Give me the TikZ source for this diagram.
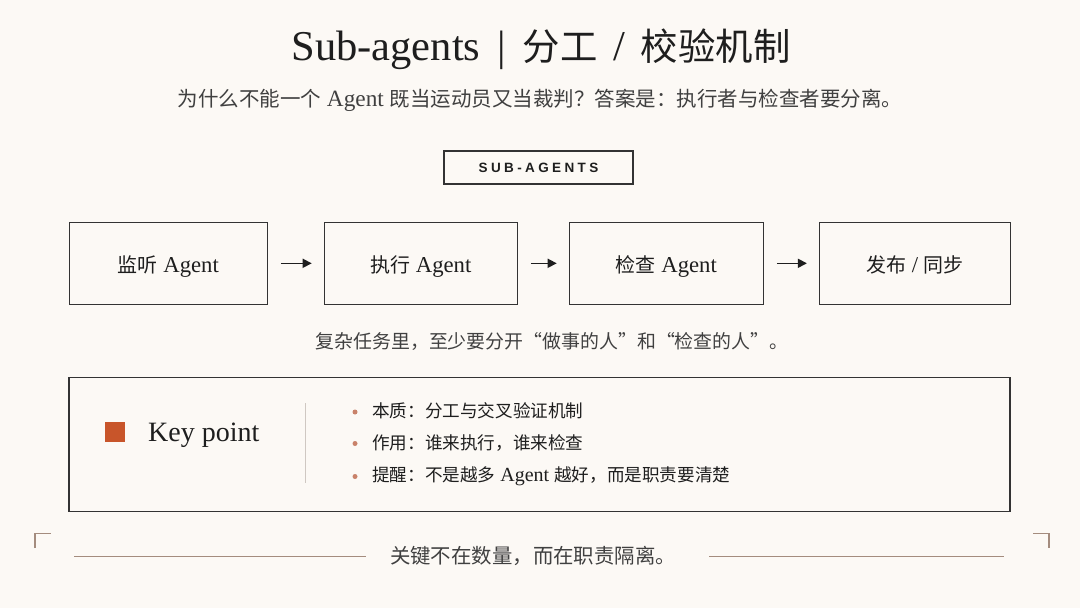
\documentclass[tikz,border=0pt]{standalone}
\usepackage{fontspec}
\setmainfont{Liberation Serif}
\newfontfamily\cjk[Scale=0.88]{Noto Sans CJK SC}
\newfontfamily\capsans[LetterSpace=25]{Liberation Sans}
\usetikzlibrary{arrows.meta}
\definecolor{bg}{HTML}{FCF9F5}
\definecolor{ink}{HTML}{1E1E1E}
\definecolor{boxline}{HTML}{333333}
\definecolor{accent}{HTML}{C8552A}
\definecolor{dotc}{HTML}{C9826A}
\definecolor{rulec}{HTML}{A48C7E}
\definecolor{divc}{HTML}{CFC8C2}
\tikzset{
  stagebox/.style={draw=boxline, line width=1.2pt, minimum height=82pt, inner sep=0pt,
    text height=22pt, text depth=3pt,
    text=ink, font=\fontsize{22.7}{26}\selectfont},
  flowarrow/.style={-{Triangle[length=9pt,width=9pt]}, line width=1.6pt, draw=ink,
    shorten <=13pt, shorten >=12pt},
  bullettext/.style={anchor=west, text=ink, inner sep=0pt, font=\fontsize{20}{24}\selectfont},
  bulletdot/.style={circle, fill=dotc, minimum size=5pt, inner sep=0pt},
  corner/.style={draw=rulec, line width=1.1pt},
  bottomrule/.style={draw=rulec, line width=1pt}
}
\begin{document}
\begin{tikzpicture}[x=1pt,y=-1pt]
\fill[bg] (0,0) rectangle (1080,608);
\useasboundingbox (0,0) rectangle (1080,608);

% title
\node[text=ink, font=\fontsize{42.5}{50}\selectfont] (title) at (541,49)
  {Sub-agents\hspace{17pt}|\hspace{17pt}{\cjk 分工}\hspace{5pt} / \hspace{5pt}{\cjk 校验机制}};
\node[text=ink!85, font=\fontsize{23.3}{26}\selectfont] (subtitle) at (540,100)
  {{\cjk 为什么不能一个} Agent {\cjk 既当运动员又当裁判？答案是：执行者与检查者要分离。}};

% tag
\node[draw=boxline, line width=1.2pt, minimum width=189pt, minimum height=33pt, inner sep=0pt,
  text=ink, font=\capsans\bfseries\fontsize{13.5}{16}\selectfont] (tag) at (538.5,167.5) {SUB-AGENTS};

% flow
\node[stagebox, minimum width=198pt] (b1) at (168.3,263.3) {{\cjk 监听} Agent};
\node[stagebox, minimum width=193pt] (b2) at (420.8,263.3) {{\cjk 执行} Agent};
\node[stagebox, minimum width=194pt] (b3) at (666.3,263.3) {{\cjk 检查} Agent};
\node[stagebox, minimum width=191pt] (b4) at (915,263.3) {{\cjk 发布} / {\cjk 同步}};
\draw[flowarrow] (b1) -- (b2);
\draw[flowarrow] (b2) -- (b3);
\draw[flowarrow] (b3) -- (b4);

\node[text=ink!85, font=\fontsize{21.5}{24}\selectfont] (caption) at (552,341)
  {\cjk 复杂任务里，至少要分开“做事的人”和“检查的人”。};

% key point
\node[draw=boxline, line width=1.2pt, minimum width=941pt, minimum height=134pt, inner sep=0pt] (kp) at (539.5,444.5) {};
\node[fill=accent, minimum size=20pt, inner sep=0pt] (sq) at (115,431.5) {};
\node[anchor=west, inner sep=0pt, text=ink, font=\fontsize{28}{32}\selectfont] (kpt) at (148,435) {Key point};
\coordinate (dtop) at (305.5,403);
\coordinate (dbot) at (305.5,482.5);
\draw[divc, line width=1pt] (dtop) -- (dbot);

\node[bulletdot] (d1) at (355,412) {};
\node[bulletdot] (d2) at (355,443.5) {};
\node[bulletdot] (d3) at (355,476.5) {};
\node[bullettext] (t1) at (372,411) {\cjk 本质：分工与交叉验证机制};
\node[bullettext] (t2) at (372,442.5) {\cjk 作用：谁来执行，谁来检查};
\node[bullettext] (t3) at (372,476.5) {{\cjk 提醒：不是越多} Agent {\cjk 越好，而是职责要清楚}};

% bottom
\coordinate (cl1) at (35,548);
\coordinate (cl2) at (35,533.5);
\coordinate (cl3) at (51,533.5);
\draw[corner] (cl1) -- (cl2) -- (cl3);
\coordinate (cr1) at (1033,533.5);
\coordinate (cr2) at (1049,533.5);
\coordinate (cr3) at (1049,548);
\draw[corner] (cr1) -- (cr2) -- (cr3);

\node[text=ink!85, font=\fontsize{23.2}{26}\selectfont] (foot) at (533,556) {\cjk 关键不在数量，而在职责隔离。};
\coordinate (ll) at (74,556);
\coordinate (rr) at (1004,556);
\draw[bottomrule] (ll) -- (366,556);
\draw[bottomrule] (709,556) -- (rr);
\end{tikzpicture}
\end{document}
